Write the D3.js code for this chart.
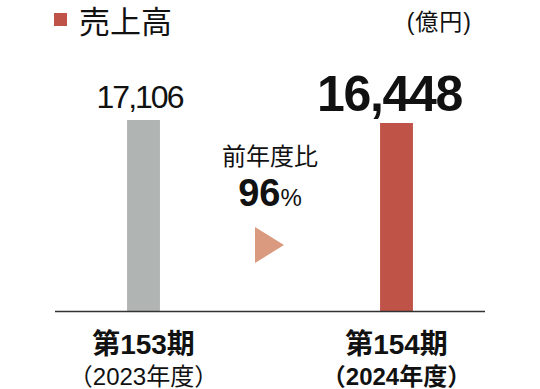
<!DOCTYPE html>
<html>
<head>
<meta charset="utf-8">
<script src="https://cdn.jsdelivr.net/npm/d3@7"></script>
<style>
  html, body { margin: 0; padding: 0; background: #fff; }
  svg { display: block; }
  text { font-family: "Liberation Sans", "Noto Sans CJK JP", sans-serif; fill: #111; }
</style>
</head>
<body>
<svg id="chart"></svg>
<script>
// data
var categories = ["第153期", "第154期"];
var years = ["（2023年度）", "（2024年度）"];
var values = [17106, 16448];
var ratio = 96;
var title = "売上高";
var unit = "(億円)";

var width = 540,
    height = 389,
    baseY = 311.5;

var colours = ["#b0b5b4", "#bf5347"];

var svg = d3.select("#chart")
  .attr("width", width)
  .attr("height", height);

// x scale (2 bars)
var x = d3.scaleBand()
  .domain(categories)
  .range([17, 523])
  .paddingInner(0.87)
  .paddingOuter(0.435);

// bars in the original are not drawn from zero
var y = d3.scaleLinear()
  .domain([-24900, 17106])
  .range([baseY, 120]);

// legend + title
svg.append("rect")
  .attr("x", 54).attr("y", 13)
  .attr("width", 13).attr("height", 13)
  .attr("fill", colours[1]);

svg.append("text")
  .attr("x", 79).attr("y", 33)
  .style("font-size", "31px")
  .text(title);

svg.append("text")
  .attr("x", 472).attr("y", 30)
  .attr("text-anchor", "end")
  .style("font-size", "23px")
  .style("letter-spacing", "1px")
  .text(unit);

// bars
svg.selectAll(".bar")
  .data(values)
  .enter().append("rect")
  .attr("class", "bar")
  .attr("x", function(d, i) { return x(categories[i]); })
  .attr("y", function(d) { return y(d); })
  .attr("width", x.bandwidth())
  .attr("height", function(d) { return baseY - y(d); })
  .attr("fill", function(d, i) { return colours[i]; });

// baseline
svg.append("line")
  .attr("x1", 55).attr("x2", 485)
  .attr("y1", baseY).attr("y2", baseY)
  .attr("stroke", "#333")
  .attr("stroke-width", 1.5);

// value labels
var fmt = d3.format(",");
svg.append("text")
  .attr("x", x(categories[0]) + x.bandwidth() / 2 - 4)
  .attr("y", y(values[0]) - 12)
  .attr("text-anchor", "middle")
  .style("font-size", "32px")
  .style("letter-spacing", "-2px")
  .text(fmt(values[0]));

svg.append("text")
  .attr("x", x(categories[1]) + x.bandwidth() / 2 - 7)
  .attr("y", y(values[1]) - 12)
  .attr("text-anchor", "middle")
  .style("font-size", "50px")
  .style("font-weight", "bold")
  .style("letter-spacing", "-1.3px")
  .text(fmt(values[1]));

// middle: year on year
var midX = (x(categories[0]) + x(categories[1]) + x.bandwidth()) / 2;

svg.append("text")
  .attr("x", midX).attr("y", 165)
  .attr("text-anchor", "middle")
  .style("font-size", "24px")
  .text("前年度比");

var pct = svg.append("text")
  .attr("x", midX).attr("y", 206)
  .attr("text-anchor", "middle");
pct.append("tspan")
  .style("font-size", "38px")
  .style("font-weight", "bold")
  .text(ratio);
pct.append("tspan")
  .style("font-size", "24px")
  .text("%");

svg.append("path")
  .attr("d", "M255,227 L284,245 L255,263 Z")
  .attr("fill", "#d99a80");

// category labels
svg.selectAll(".cat")
  .data(categories)
  .enter().append("text")
  .attr("class", "cat")
  .attr("x", function(d) { return x(d) + x.bandwidth() / 2; })
  .attr("y", 354)
  .attr("text-anchor", "middle")
  .style("font-size", "28px")
  .style("font-weight", "bold")
  .text(function(d) { return d; });

svg.selectAll(".year")
  .data(years)
  .enter().append("text")
  .attr("class", "year")
  .attr("x", function(d, i) { return x(categories[i]) + x.bandwidth() / 2; })
  .attr("y", 385)
  .attr("text-anchor", "middle")
  .style("font-size", "24px")
  .style("font-weight", function(d, i) { return i === 1 ? "bold" : "normal"; })
  .text(function(d) { return d; });
</script>
</body>
</html>
